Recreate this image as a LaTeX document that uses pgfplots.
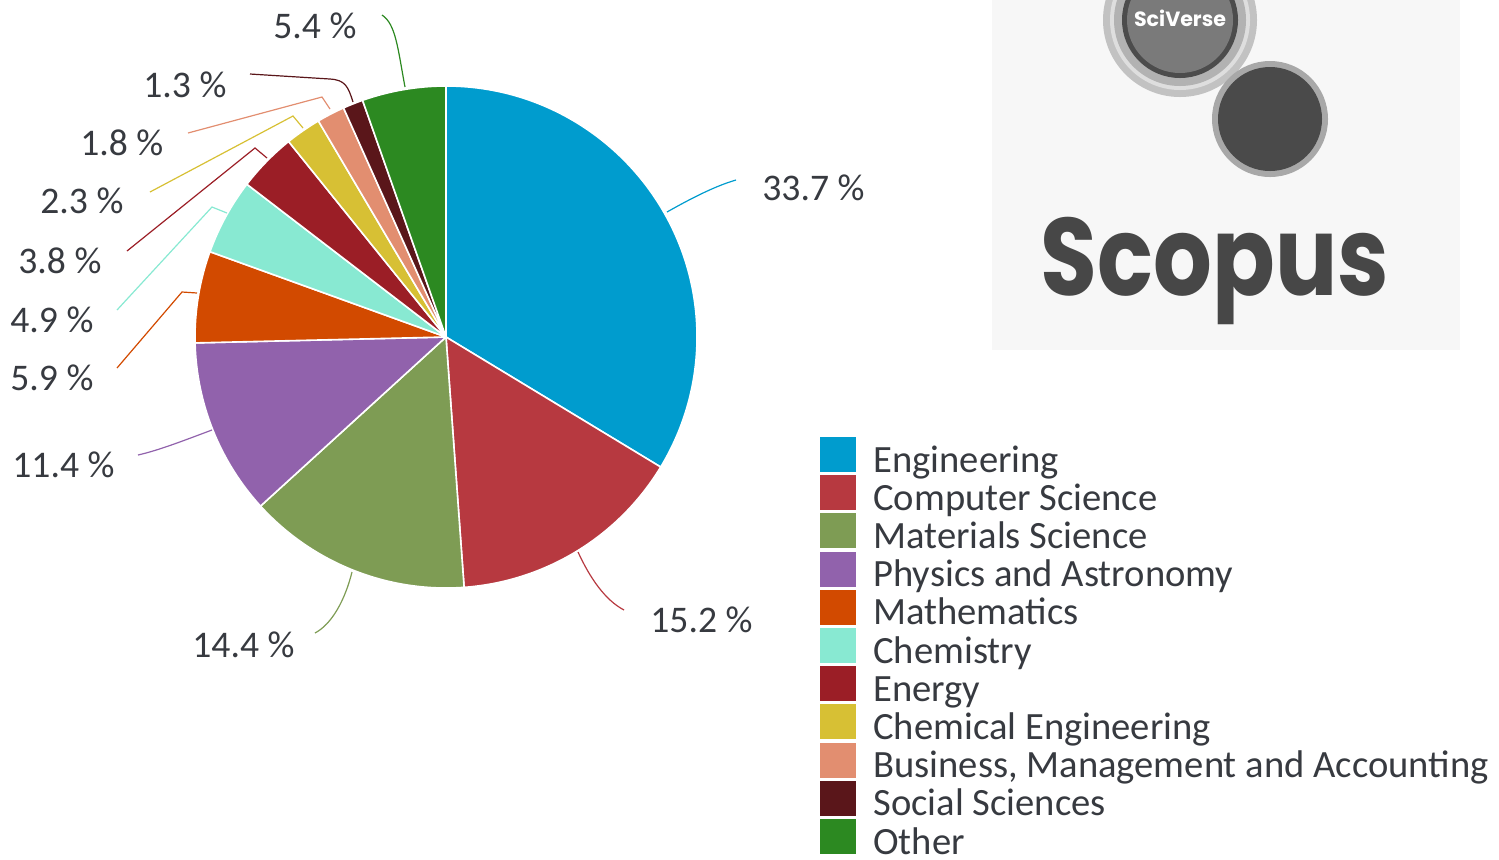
\documentclass[border=0pt]{standalone}
\usepackage{pgfplots}
\usepackage{pgfplotstable}
\pgfplotsset{compat=1.18}
\usepackage{fontspec}
\setmainfont{Carlito}
\newfontfamily\logofont{Poppins}

\definecolor{cEng}{RGB}{0,156,206}
\definecolor{cCS}{RGB}{183,57,64}
\definecolor{cMat}{RGB}{126,156,84}
\definecolor{cPhys}{RGB}{145,98,172}
\definecolor{cMath}{RGB}{210,74,0}
\definecolor{cChem}{RGB}{136,233,210}
\definecolor{cEnergy}{RGB}{155,30,38}
\definecolor{cChemEng}{RGB}{215,192,52}
\definecolor{cBus}{RGB}{226,142,112}
\definecolor{cSoc}{RGB}{90,22,26}
\definecolor{cOther}{RGB}{44,137,33}
\definecolor{txt}{RGB}{55,58,64}

% share of documents per subject area (%)
\pgfplotstableread{
share col
33.7 cEng
15.2 cCS
14.4 cMat
11.4 cPhys
5.9 cMath
4.9 cChem
3.8 cEnergy
2.3 cChemEng
1.8 cBus
1.3 cSoc
5.4 cOther
}\piedata

\begin{document}
\begin{tikzpicture}
\begin{axis}[
    hide axis, scale only axis,
    width=749.5pt, height=429.5pt,
    xmin=0, xmax=1499, ymin=0, ymax=859,
    y dir=reverse, clip=false,
]
% pie wedges, clockwise from the top
\pgfplotsextra{
  \pgfplotstablegetrowsof{\piedata}
  \pgfmathtruncatemacro\nlast{\pgfplotsretval-1}
  \xdef\angA{90}
  \foreach \i in {0,...,\nlast}{
    \pgfplotstablegetelem{\i}{share}\of\piedata\let\sh\pgfplotsretval
    \pgfplotstablegetelem{\i}{col}\of\piedata\let\cl\pgfplotsretval
    \pgfmathsetmacro\angB{\angA-360*\sh/100.1}
    \filldraw[fill=\cl, draw=white, line width=0.8pt, line join=round]
      (axis cs:446,337) -- ++(\angA:125.5pt)
      arc[start angle=\angA, end angle=\angB, radius=125.5pt] -- cycle;
    \xdef\angA{\angB}
  }
}

% leader lines
\draw[cEng, line width=0.6pt] (axis cs:667,212) .. controls (axis cs:690,199) and (axis cs:715,186) .. (axis cs:736,180);
\draw[cCS, line width=0.6pt] (axis cs:578,552) .. controls (axis cs:590,578) and (axis cs:605,600) .. (axis cs:624,610);
\draw[cMat, line width=0.6pt] (axis cs:352,572) .. controls (axis cs:345,600) and (axis cs:332,624) .. (axis cs:315,633);
\draw[cPhys, line width=0.6pt] (axis cs:212,430) .. controls (axis cs:185,440) and (axis cs:160,450) .. (axis cs:138,455);
\draw[cMath, line width=0.6pt] (axis cs:197,293) -- (axis cs:182,292) -- (axis cs:117,368);
\draw[cChem, line width=0.6pt] (axis cs:227,213) -- (axis cs:212,207) -- (axis cs:117,310);
\draw[cEnergy, line width=0.6pt] (axis cs:267,158) -- (axis cs:255,148) -- (axis cs:127,251);
\draw[cChemEng, line width=0.6pt] (axis cs:303,128) -- (axis cs:293,116) -- (axis cs:150,192);
\draw[cBus, line width=0.6pt] (axis cs:330,109) -- (axis cs:322,97) -- (axis cs:188,133);
\draw[cSoc, line width=0.6pt] (axis cs:353,102) .. controls (axis cs:348,86) and (axis cs:345,80) .. (axis cs:330,79) -- (axis cs:250,74);
\draw[cOther, line width=0.6pt] (axis cs:405,87) .. controls (axis cs:398,50) and (axis cs:396,24) .. (axis cs:382,15);

% value labels
\begin{scope}[every node/.style={anchor=base west, inner sep=0pt, text=txt,
    font=\fontsize{18.8}{20}\selectfont}]
\node at (axis cs:762,200) {33.7 \%};
\node at (axis cs:650,632) {15.2 \%};
\node at (axis cs:192,657) {14.4 \%};
\node at (axis cs:12,477) {11.4 \%};
\node at (axis cs:10,390) {5.9 \%};
\node at (axis cs:10,332) {4.9 \%};
\node at (axis cs:18,273) {3.8 \%};
\node at (axis cs:40,213) {2.3 \%};
\node at (axis cs:80,155) {1.8 \%};
\node at (axis cs:143,97) {1.3 \%};
\node at (axis cs:273,38) {5.4 \%};
\end{scope}

% legend
\pgfplotsextra{
  \foreach \n/\c [count=\k from 0] in {Engineering/cEng, Computer Science/cCS,
      Materials Science/cMat, Physics and Astronomy/cPhys, Mathematics/cMath,
      Chemistry/cChem, Energy/cEnergy, Chemical Engineering/cChemEng,
      {Business, Management and Accounting}/cBus, Social Sciences/cSoc, Other/cOther}{
    \pgfmathsetmacro\yt{437+38.2*\k}
    \pgfmathsetmacro\yb{\yt+35}
    \fill[\c] (axis cs:820,\yt) rectangle (axis cs:856,\yb);
    \node[anchor=base west, inner sep=0pt, text=txt, font=\fontsize{19.3}{20}\selectfont]
      at (axis cs:873,\yb) {\n};
  }
}

% SciVerse Scopus logo
\begin{scope}
\clip (axis cs:992,0) rectangle (axis cs:1460,350);
\fill[black!3] (axis cs:992,0) rectangle (axis cs:1460,350);
\fill[black!24] (axis cs:1180,20) circle[radius=38.5pt];
\fill[black!13] (axis cs:1180,20) circle[radius=35pt];
\fill[black!30] (axis cs:1180,20) circle[radius=33pt];
\fill[black!70] (axis cs:1180,20) circle[radius=29pt];
\fill[black!52] (axis cs:1180,20) circle[radius=26.5pt];
\node[text=white, font=\logofont\bfseries\fontsize{10.3}{12}\selectfont] at (axis cs:1180,18) {SciVerse};
\fill[black!34] (axis cs:1270,119) circle[radius=29pt];
\fill[black!71] (axis cs:1270,119) circle[radius=26pt];
\node[anchor=base, inner sep=0pt, text=black!72, xscale=0.84,
      font=\logofont\bfseries\fontsize{55}{60}\selectfont]
  at (axis cs:1215,295) {Scopus};
\end{scope}
\end{axis}
\pgfresetboundingbox
\path (current axis.south west) rectangle (current axis.north east);
\end{tikzpicture}
\end{document}
